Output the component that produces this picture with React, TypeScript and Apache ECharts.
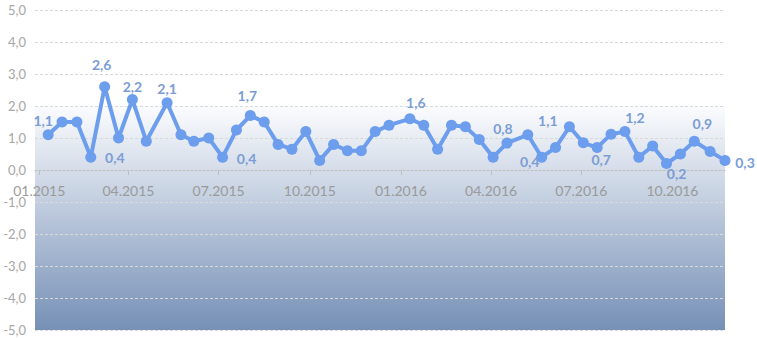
import React, { useEffect, useRef } from "react";
import * as echarts from "echarts";

const dates = [
  "2015-01-10", "2015-01-24", "2015-02-08", "2015-02-22", "2015-03-08", "2015-03-22",
  "2015-04-05", "2015-04-19", "2015-05-10", "2015-05-24", "2015-06-06", "2015-06-21",
  "2015-07-05", "2015-07-19", "2015-08-02", "2015-08-16", "2015-08-30", "2015-09-13",
  "2015-09-27", "2015-10-11", "2015-10-25", "2015-11-08", "2015-11-22", "2015-12-06",
  "2015-12-20", "2016-01-10", "2016-01-24", "2016-02-07", "2016-02-21", "2016-03-06",
  "2016-03-20", "2016-04-03", "2016-04-17", "2016-05-08", "2016-05-22", "2016-06-05",
  "2016-06-19", "2016-07-03", "2016-07-17", "2016-07-31", "2016-08-14", "2016-08-28",
  "2016-09-11", "2016-09-25", "2016-10-09", "2016-10-23", "2016-11-08", "2016-11-23",
];

const values = [
  1.1, 1.5, 1.5, 0.4, 2.6, 1.0, 2.2, 0.9, 2.1, 1.1, 0.9, 1.0,
  0.4, 1.25, 1.7, 1.5, 0.8, 0.65, 1.2, 0.3, 0.8, 0.6, 0.6, 1.2,
  1.4, 1.6, 1.4, 0.65, 1.4, 1.35, 0.95, 0.4, 0.84, 1.1, 0.4, 0.7,
  1.35, 0.85, 0.7, 1.12, 1.2, 0.4, 0.75, 0.2, 0.5, 0.9, 0.58, 0.3,
];

const labeledPoints = [0, 3, 4, 6, 8, 12, 14, 25, 32, 33, 34, 38, 40, 43, 45, 47];

const tickDates = [
  "2015-01-01", "2015-04-01", "2015-07-01", "2015-10-01",
  "2016-01-01", "2016-04-01", "2016-07-01", "2016-10-01",
];

const axisStart = "2014-12-27";
const axisEnd = "2016-11-23";
const yMin = -5;
const yMax = 5;
const yStep = 1;
const shadeTop = 2;

// label placement (offsets of label centre from point, px)
const labelOffsets: Record<number, [number, number]> = {
  0: [-5, -14], 3: [24, 0], 4: [-3, -22], 6: [0, -13], 8: [0, -14],
  12: [24, 1], 14: [-3, -20], 25: [6, -16], 32: [-4, -15], 33: [20, -14],
  34: [-12, 4], 38: [4, 12], 40: [10, -14], 43: [10, 10], 45: [8, -18], 47: [20, 2],
};

function ts(s: string, hourOffset = 0): number {
  const [y, m, d] = s.split("-").map(Number);
  return new Date(y, m - 1, d, hourOffset).getTime();
}

const fmt = (v: number) => v.toFixed(1).replace(".", ",");

export default function App() {
  const ref = useRef<HTMLDivElement>(null);
  useEffect(() => {
    if (!ref.current) return;
    const chart = echarts.init(ref.current, undefined, { renderer: "svg" });
    const lineColor = "#6d9ded";
    const tickValues = tickDates.map((d) => ts(d));
    const seriesData = dates.map((d, i) => {
      const item: any = { value: [ts(d), values[i]] };
      if (labeledPoints.includes(i)) {
        const off = labelOffsets[i] || [0, -14];
        item.label = {
          show: true,
          position: "inside",
          offset: off,
          formatter: () => fmt(values[i]),
          color: "#7b9dd5",
          fontSize: 14,
          fontWeight: "bold",
          fontFamily: "Lato",
          textBorderWidth: 0,
        };
      }
      return item;
    });
    chart.setOption({
      animation: false,
      textStyle: { fontFamily: "Lato" },
      grid: { left: 35, right: 32, top: 10, bottom: 8, containLabel: false, outerBoundsMode: "none" },
      xAxis: {
        type: "value",
        min: ts(axisStart, 17),
        max: ts(axisEnd),
        z: 1,
        axisLine: { show: true, onZero: true, lineStyle: { color: "#bfbfbf", width: 1, type: [2, 2] } },
        axisTick: {
          show: true,
          length: 5,
          lineStyle: { color: "#bfbfbf" },
          customValues: tickValues,
        },
        axisLabel: {
          color: "#9a9a9a",
          fontSize: 14,
          fontFamily: "Lato",
          margin: -147,
          showMinLabel: true,
          showMaxLabel: true,
          customValues: tickValues,
          formatter: (v: number) => {
            const dt = new Date(v);
            const m = String(dt.getMonth() + 1).padStart(2, "0");
            return `${m}.${dt.getFullYear()}`;
          },
        },
        splitLine: { show: false },
      },
      yAxis: {
        type: "value",
        min: yMin,
        max: yMax,
        interval: yStep,
        z: 1,
        axisLine: { show: false },
        axisTick: { show: false },
        axisLabel: {
          color: "#a6a6a6",
          fontSize: 13,
          fontFamily: "Lato",
          margin: 9,
          formatter: (v: number) => fmt(v),
        },
        splitLine: { show: true, lineStyle: { color: "#d9d9d9", width: 1, type: [3, 2] } },
      },
      series: [
        {
          type: "line",
          z: 0,
          silent: true,
          data: dates.map((d, i) => [ts(d), values[i]]),
          showSymbol: false,
          symbol: "none",
          lineStyle: { opacity: 0 },
          markArea: {
            silent: true,
            z: 0,
            itemStyle: {
              color: {
                type: "linear",
                x: 0, y: 0, x2: 0, y2: 1,
                colorStops: [
                  { offset: 0, color: "#fbfcfe" },
                  { offset: 1, color: "#7690b6" },
                ],
              },
            },
            data: [[{ yAxis: shadeTop }, { yAxis: yMin }]],
          },
        },
        {
          type: "line",
          z: 3,
          data: seriesData,
          symbol: "circle",
          symbolSize: 11,
          showSymbol: true,
          lineStyle: { color: lineColor, width: 4 },
          itemStyle: { color: lineColor },
          label: { show: false },
        },
      ],
    });
    return () => chart.dispose();
  }, []);
  return (
    <div
      ref={ref}
      style={{ position: "fixed", left: 0, top: 0, width: 757, height: 338, background: "#fff" }}
    />
  );
}
